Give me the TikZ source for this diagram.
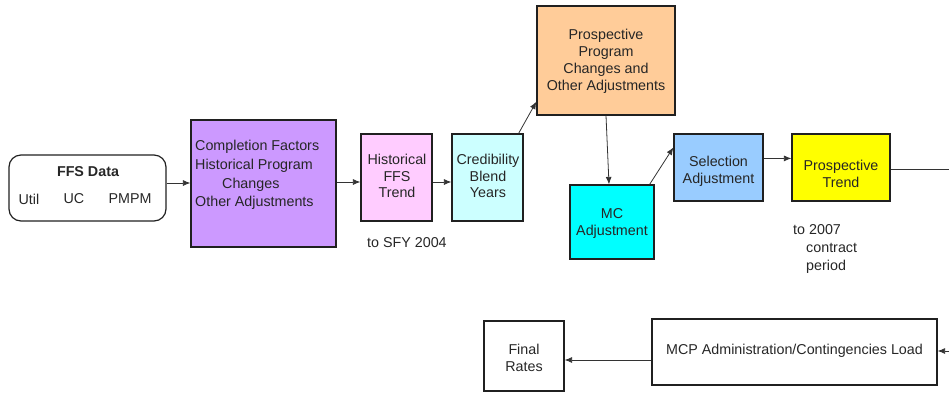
\documentclass[tikz,border=0pt]{standalone}
\usepackage{fontspec}
\setmainfont{Liberation Sans}
\usetikzlibrary{arrows.meta,calc}
\definecolor{cpurple}{HTML}{CC99FF}
\definecolor{cpink}{HTML}{FFCCFF}
\definecolor{cpale}{HTML}{CCFFFF}
\definecolor{corange}{HTML}{FFCC99}
\definecolor{ccyan}{HTML}{00FFFF}
\definecolor{cblue}{HTML}{99CCFF}
\definecolor{cyel}{HTML}{FFFF00}
\definecolor{cborder}{HTML}{202020}
\begin{document}
\begin{tikzpicture}[x=1pt,y=-1pt,
  every node/.style={font=\fontsize{14.3}{17}\selectfont, text=black!85},
  boxnode/.style={draw=cborder, line width=1.2pt, inner sep=0pt, align=center},
  txt/.style={inner sep=0pt, align=center},
  conn/.style={draw=black!80, line width=0.8pt, -{Latex[length=7.5pt,width=6pt]}},
  plain/.style={draw=black!80, line width=0.8pt}]
\useasboundingbox (0,0) rectangle (949,394);
% FFS data
\node[boxnode, rounded corners=12pt, minimum width=157pt, minimum height=66pt] (ffs) at (87.5,188) {};
\node[txt, font=\fontsize{14.3}{17}\selectfont\bfseries] (ffst) at (88,172) {FFS Data};
\node[txt] (util) at (29,199) {Util};
\node[txt] (uc) at (74,199) {UC};
\node[txt] (pmpm) at (130,199) {PMPM};
% purple
\node[boxnode, fill=cpurple, minimum width=145pt, minimum height=127pt] (purp) at (263.5,183.5) {};
\node[txt, anchor=west, align=left, font=\fontsize{14.3}{18.7}\selectfont] (purpt) at (195,175) {Completion Factors\\Historical Program\\\hspace*{27pt}Changes\\Other Adjustments};
% historical FFS trend
\node[boxnode, fill=cpink, minimum width=71pt, minimum height=87pt] (hist) at (396.5,177.5) {};
\node[txt, font=\fontsize{14.3}{16.5}\selectfont] (histt) at (397,176) {Historical\\FFS\\Trend};
% credibility
\node[boxnode, fill=cpale, minimum width=71pt, minimum height=87pt] (cred) at (487.5,177.5) {};
\node[txt, font=\fontsize{14.3}{16.5}\selectfont] (credt) at (488,176) {Credibility\\Blend\\Years};
\node[txt, anchor=west] (sfy) at (367,243) {to SFY 2004};
% prospective program
\node[boxnode, fill=corange, minimum width=138pt, minimum height=109pt] (prosp) at (606,60.5) {};
\node[txt] (prospt) at (606,61) {Prospective\\Program\\Changes and\\Other Adjustments};
% MC adjustment
\node[boxnode, fill=ccyan, minimum width=84pt, minimum height=74pt] (mc) at (612,222) {};
\node[txt] (mct) at (612,223) {MC\\Adjustment};
% selection
\node[boxnode, fill=cblue, minimum width=89pt, minimum height=67pt] (sel) at (718.5,167.5) {};
\node[txt] (selt) at (718.5,171) {Selection\\Adjustment};
% prospective trend
\node[boxnode, fill=cyel, minimum width=98pt, minimum height=67pt] (trend) at (841,167.5) {};
\node[txt] (trendt) at (841,174) {Prospective\\Trend};
\node[txt, anchor=north west, align=left, font=\fontsize{14.3}{18}\selectfont] (c2007) at (793,224) {to 2007\\\hspace*{13pt}contract\\\hspace*{13pt}period};
% MCP admin
\node[boxnode, minimum width=285pt, minimum height=66pt] (mcp) at (794.5,352) {};
\node[txt] (mcpt) at (794.5,351) {MCP Administration/Contingencies Load};
% final rates
\node[boxnode, minimum width=80pt, minimum height=70pt] (final) at (524,356) {};
\node[txt] (finalt) at (524,358) {Final\\Rates};
% edge coordinates
\coordinate (edgeA) at (949,169);
\coordinate (edgeB) at (949,351);
% connectors
\draw[conn] (ffs.east |- 0,183) -- (purp.west |- 0,183);
\draw[conn] (purp.east |- 0,182) -- (hist.west |- 0,182);
\draw[conn] (hist.east |- 0,182) -- (cred.west |- 0,182);
\draw[conn] ($(cred.north east)+(-5,0)$) -- ($(prosp.south west)+(0,-14)$);
\draw[conn] (prosp.south) -- ($(mc.north)+(-3,0)$);
\draw[conn] ($(mc.north east)+(-5,0)$) -- ($(sel.north west)+(0,14)$);
\draw[conn] ($(sel.north east)+(0,25)$) -- ($(trend.north west)+(0,25)$);
\draw[plain] (trend.east |- edgeA) -- (edgeA);
\draw[conn] (edgeB) -- (mcp.east |- edgeB);
\draw[conn] (mcp.west |- 0,360) -- (final.east |- 0,360);
\end{tikzpicture}
\end{document}
